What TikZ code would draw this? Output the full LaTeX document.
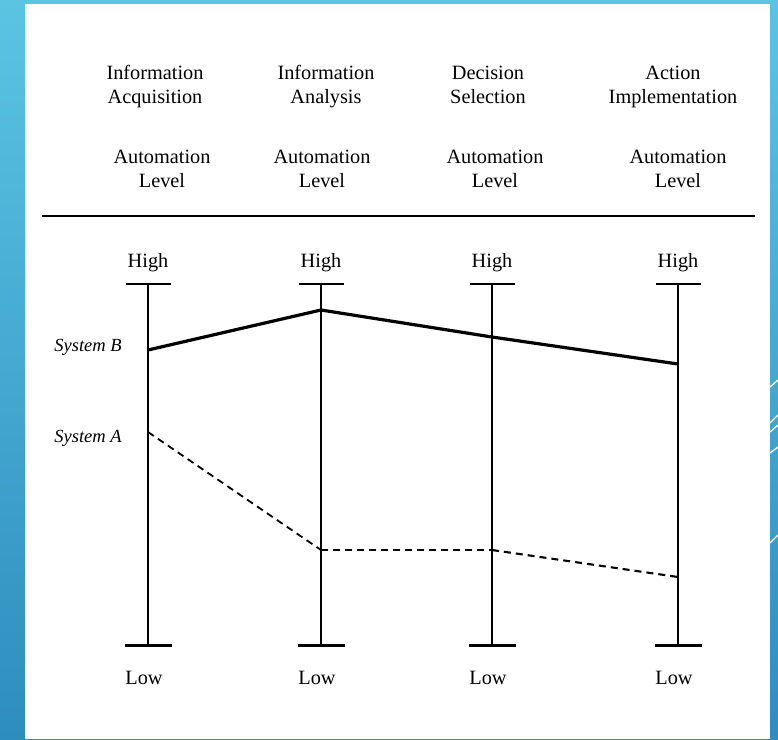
\documentclass[tikz,border=0pt]{standalone}
\usepackage{fontspec}
\setmainfont{Liberation Serif}
\usepackage{tikz}
\begin{document}
\begin{tikzpicture}[x=1pt,y=-1pt,
  lbl/.style={font=\fontsize{20.3}{24}\selectfont, align=center, inner sep=0pt},
  sys/.style={font=\fontsize{18.5}{20}\selectfont\itshape, inner sep=0pt},
  axisline/.style={line width=1.4pt},
  topbar/.style={line width=1.8pt},
  botbar/.style={line width=3pt},
  sysb/.style={line width=3.2pt, line join=round},
  sysa/.style={line width=2.1pt, dash pattern=on 7pt off 5pt},
  deco/.style={white, line width=1.3pt}]
\useasboundingbox (0,0) rectangle (778,739);
\shade[top color={rgb,255:red,91;green,196;blue,227}, bottom color={rgb,255:red,46;green,141;blue,191}] (0,0) rectangle (778,739);
\fill[white] (25,4) rectangle (770,739);
% decorative lines on right strip
\draw[deco] (770,387) -- (778,380);
\draw[deco] (770,423) -- (778,415);
\draw[deco] (770,432) -- (778,425);
\draw[deco] (770,453) -- (778,447);
\draw[deco] (770,543) -- (778,535);

% headers
\node[lbl] (h1) at (155,87) {Information\strut\\Acquisition\strut};
\node[lbl] (h2) at (326,87) {Information\strut\\Analysis\strut};
\node[lbl] (h3) at (488,87) {Decision\strut\\Selection\strut};
\node[lbl] (h4) at (673,87) {Action\strut\\Implementation\strut};
\node[lbl] (a1) at (162,171) {Automation\strut\\Level\strut};
\node[lbl] (a2) at (322,171) {Automation\strut\\Level\strut};
\node[lbl] (a3) at (495,171) {Automation\strut\\Level\strut};
\node[lbl] (a4) at (678,171) {Automation\strut\\Level\strut};

% rule
\coordinate (rl) at (42,216);
\coordinate (rr) at (755,216);
\draw[line width=2pt] (rl) -- (rr);

% axes
\foreach \i/\x in {1/148,2/321,3/492,4/678}{
  \coordinate (t\i) at (\x,284);
  \coordinate (b\i) at (\x,645);
  \coordinate (tl\i) at (\x-22,284);
  \coordinate (tr\i) at (\x+23,284);
  \coordinate (bl\i) at (\x-23,645);
  \coordinate (br\i) at (\x+24,645);
  \draw[axisline] (t\i) -- (b\i);
  \draw[topbar] (tl\i) -- (tr\i);
  \draw[botbar] (bl\i) -- (br\i);
  \node[lbl] (hi\i) at (\x,263) {High};
  \node[lbl] (lo\i) at (\x-4,678) {Low};
}

% systems
\node[sys] (sb) at (88,347) {System B};
\node[sys] (sa) at (88,438) {System A};
\coordinate (B1) at (148,350);
\coordinate (B2) at (321,310);
\coordinate (B3) at (492,337);
\coordinate (B4) at (678,364);
\coordinate (A1) at (148,432);
\coordinate (A2) at (321,550);
\coordinate (A3) at (492,550);
\coordinate (A4) at (678,577);
\draw[sysb] (B1) -- (B2) -- (B3) -- (B4);
\draw[sysa, line width=1.8pt] (A1) -- (A2);
\draw[sysa, line width=2.8pt] (A2) -- (A3);
\draw[sysa] (A3) -- (A4);
\end{tikzpicture}
\end{document}
